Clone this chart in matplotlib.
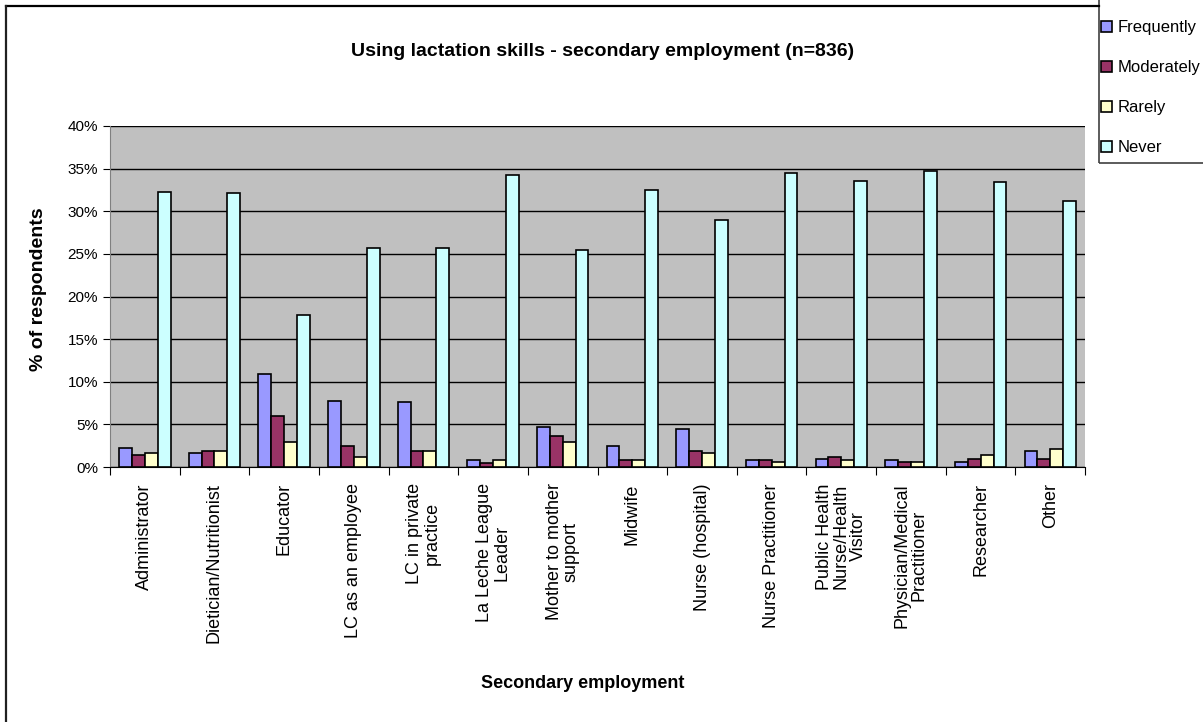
import matplotlib.pyplot as plt
import matplotlib.patches as mpatches
from matplotlib.lines import Line2D
from matplotlib.ticker import PercentFormatter
import numpy as np

plt.rcParams['font.family'] = ['Liberation Sans', 'DejaVu Sans']

categories = ['Administrator', 'Dietician/Nutritionist', 'Educator', 'LC as an employee',
              'LC in private\npractice', 'La Leche League\nLeader', 'Mother to mother\nsupport',
              'Midwife', 'Nurse (hospital)', 'Nurse Practitioner',
              'Public Health\nNurse/Health\nVisitor', 'Physician/Medical\nPractitioner',
              'Researcher', 'Other']
frequently = [2.3, 1.7, 10.9, 7.8, 7.6, 0.8, 4.7, 2.5, 4.5, 0.8, 1.0, 0.8, 0.6, 1.9]
moderately = [1.4, 1.9, 6.0, 2.5, 1.9, 0.5, 3.6, 0.8, 1.9, 0.8, 1.2, 0.6, 1.0, 1.0]
rarely = [1.6, 1.9, 3.0, 1.2, 1.9, 0.8, 3.0, 0.8, 1.6, 0.6, 0.8, 0.6, 1.4, 2.1]
never = [32.3, 32.1, 17.8, 25.7, 25.7, 34.3, 25.5, 32.5, 29.0, 34.5, 33.6, 34.7, 33.4, 31.2]

series = [('Frequently', frequently, '#9999FF'),
          ('Moderately', moderately, '#993366'),
          ('Rarely', rarely, '#FFFFCC'),
          ('Never', never, '#CCFFFF')]

W, H = 1203, 722
fig = plt.figure(figsize=(W / 100, H / 100), dpi=100)
ax = fig.add_axes([0.0914, 0.353, 0.8106, 0.4725])

x = np.arange(len(categories))
w = 0.185
handles = []
for i, (name, vals, col) in enumerate(series):
    b = ax.bar(x + (i - 1.5) * w, vals, w, color=col, edgecolor='black', linewidth=1.2,
               label=name, zorder=3)
    handles.append(b)

ax.set_facecolor('#C0C0C0')
ax.set_xlim(-0.5, len(categories) - 0.5)
ax.set_ylim(0, 40)
ax.set_yticks(np.arange(0, 41, 5))
ax.yaxis.set_major_formatter(PercentFormatter(decimals=0))
ax.grid(axis='y', color='black', linewidth=1, zorder=1)
ax.set_axisbelow(True)
ax.set_xticks(np.arange(-0.5, len(categories), 1))
ax.set_xticklabels([])
ax.tick_params(axis='x', length=6, direction='out')
ax.tick_params(axis='y', length=5, direction='out', labelsize=11)
for s in ['top', 'right']:
    ax.spines[s].set_visible(False)
ax.spines['left'].set_color('#808080')
ax.spines['bottom'].set_color('black')

for xi, lab in zip(x, categories):
    ax.text(xi, -1.9, lab, rotation=90, ha='center', va='top', multialignment='center',
            fontsize=13, linespacing=1.0)

fig.text(0.501, 0.928, 'Using lactation skills - secondary employment (n=836)',
         ha='center', va='center', fontsize=14, fontweight='bold')
fig.text(0.4846, 0.054, 'Secondary employment', ha='center', va='center',
         fontsize=13, fontweight='bold')
fig.text(0.032, 0.6, '% of respondents', rotation=90, ha='center', va='center',
         fontsize=14, fontweight='bold')

# legend: frame runs off the top and right edges
leg = fig.legend(handles=handles, loc='upper left', bbox_to_anchor=(1101 / W, 1 - 20 / H),
                 frameon=False, fontsize=12, handlelength=0.65, handleheight=0.65,
                 handletextpad=0.35, labelspacing=1.5, borderpad=0, borderaxespad=0)
fig.patches.append(mpatches.Rectangle((1099 / W, 1 - 163 / H), 0.2, 0.3,
                                      transform=fig.transFigure, fill=False,
                                      edgecolor='#404040', linewidth=1.2))

# outer chart border, only top and left visible
fig.lines.append(Line2D([6 / W, 1099 / W], [1 - 6 / H, 1 - 6 / H], transform=fig.transFigure,
                        color='black', linewidth=1.6))
fig.lines.append(Line2D([6 / W, 6 / W], [-0.01, 1 - 6 / H], transform=fig.transFigure,
                        color='#202020', linewidth=1.6))

fig.savefig('out.png', dpi=100)
